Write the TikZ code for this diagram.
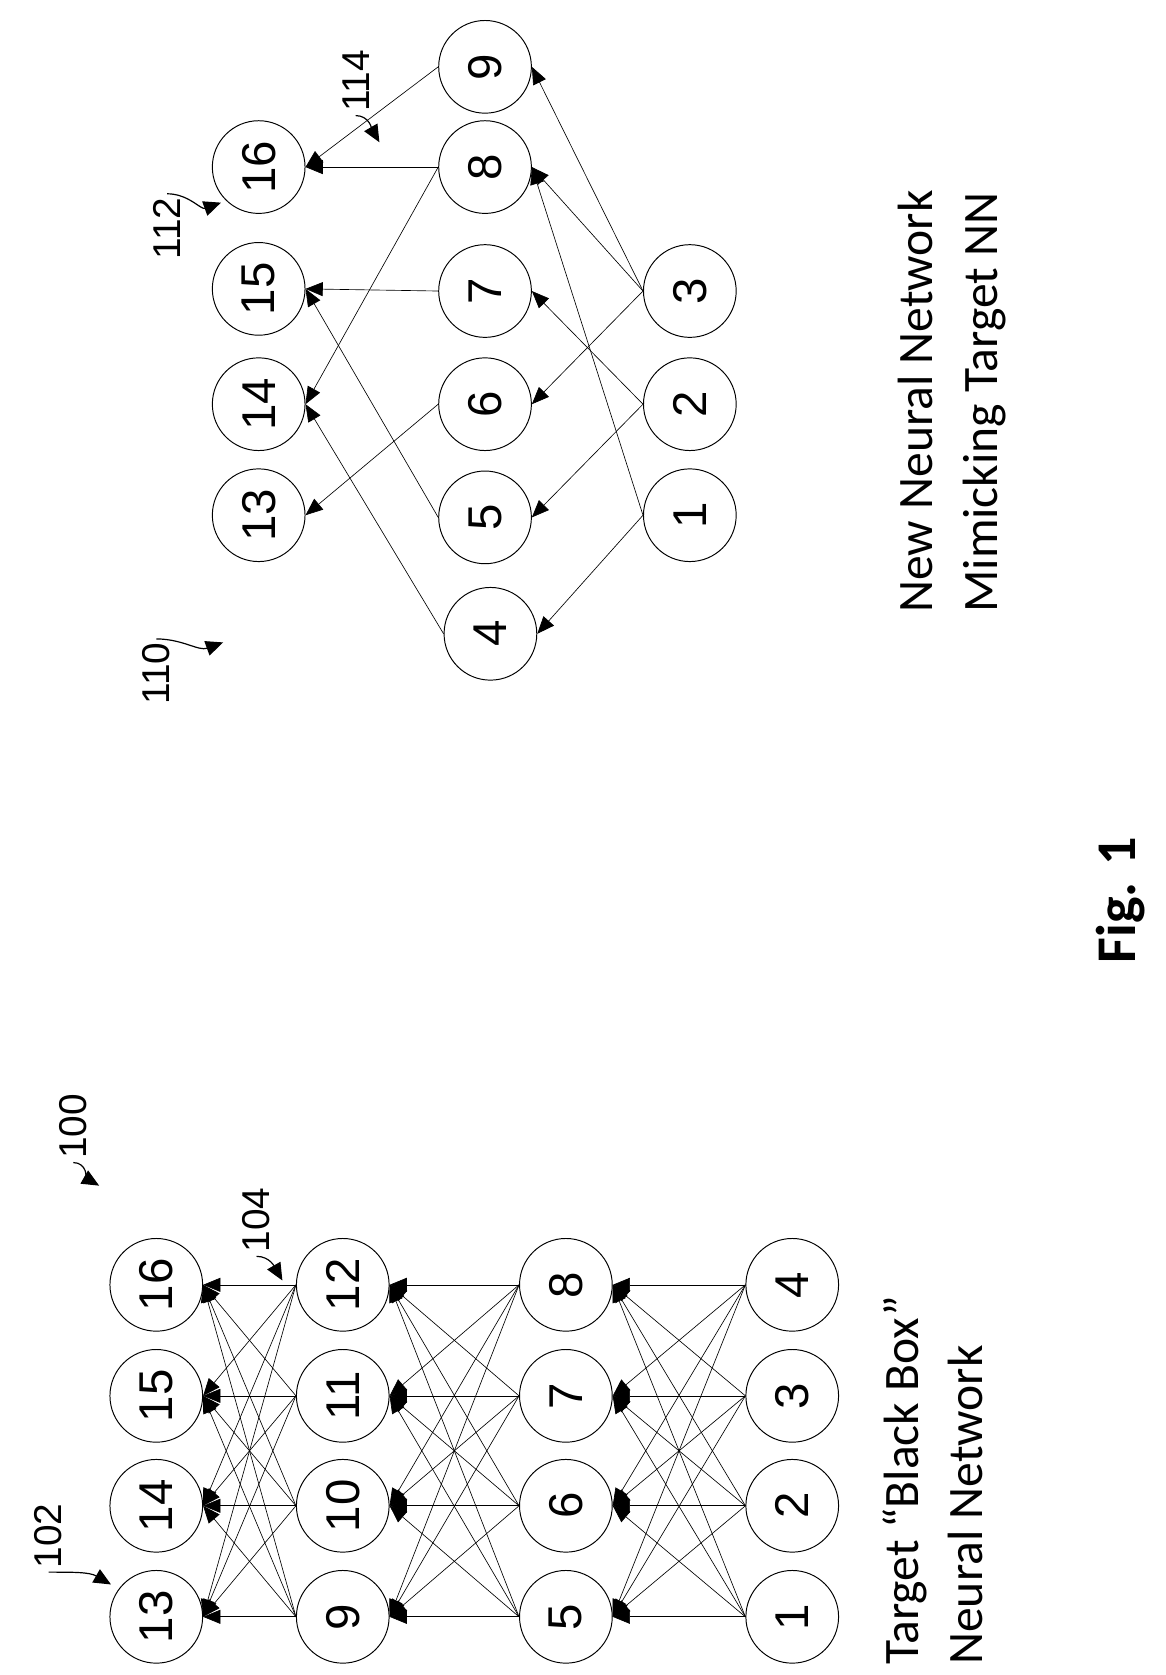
\documentclass[tikz,border=0pt]{standalone}
\usepackage{fontspec}
\setmainfont{Carlito}
\newfontfamily\numfont{Liberation Sans}
\usetikzlibrary{arrows.meta}
\begin{document}
\begin{tikzpicture}[x=1pt,y=-1pt,
    neuron/.style={draw,circle,minimum size=86,inner sep=0pt,line width=0.9,rotate=90,font=\numfont\fontsize{44}{44}\selectfont},
    link/.style={line width=0.6,-{Triangle[length=16,width=13]}},
    tag/.style={rotate=90,font=\numfont\fontsize{36}{36}\selectfont},
    lead/.style={line width=1.1,-{Triangle[length=16,width=14]}},
    caption/.style={rotate=90,anchor=north west,align=left,font=\fontsize{46}{60}\selectfont}]
    \useasboundingbox (0,0) rectangle (1081,1554);

    % black box network
    \foreach \l/\x in {0/735,1/525,2/318,3/145}{
        \foreach \r/\y in {1/1500,2/1397,3/1295,4/1192}{
            \pgfmathtruncatemacro{\n}{4*\l+\r}
            \node[neuron] (b\n) at (\x,\y) {\n};
        }
    }
    \foreach \l in {0,1,2}{
        \foreach \i in {1,...,4}{
            \foreach \j in {1,...,4}{
                \pgfmathtruncatemacro{\s}{4*\l+\i}
                \pgfmathtruncatemacro{\t}{4*\l+4+\j}
                \draw[link] (b\s.north) -- (b\t.south);
            }
        }
    }

    % mimicking network
    \node[neuron] (m1) at (640,478) {1};
    \node[neuron] (m2) at (640,375) {2};
    \node[neuron] (m3) at (640,270) {3};
    \node[neuron] (m4) at (455,588) {4};
    \node[neuron] (m5) at (450,480) {5};
    \node[neuron] (m6) at (450,375) {6};
    \node[neuron] (m7) at (450,270) {7};
    \node[neuron] (m8) at (450,155) {8};
    \node[neuron] (m9) at (450,62) {9};
    \node[neuron] (m13) at (240,478) {13};
    \node[neuron] (m14) at (240,375) {14};
    \node[neuron] (m15) at (240,268) {15};
    \node[neuron] (m16) at (240,155) {16};
    \foreach \s/\t in {9/16,8/16,7/15,5/15,8/14,4/14,6/13,3/9,3/8,1/8,2/7,3/6,2/5,1/4}
        \draw[link] (m\s.north) -- (m\t.south);

    % reference numerals
    \node[tag] (t100) at (68,1045) {100};
    \coordinate (p100) at (92,1100);
    \draw[lead] (t100.west) to[out=0,in=150] (p100);
    \node[tag] (t102) at (45,1425) {102};
    \coordinate (p102) at (103,1470);
    \draw[lead] (t102.west) to[out=0,in=150] (p102);
    \node[tag] (t104) at (238,1132) {104};
    \coordinate (p104) at (262,1188);
    \draw[lead] (t104.west) to[out=0,in=120] (p104);
    \node[tag] (t110) at (145,625) {110};
    \coordinate (p110) at (207,596);
    \draw[lead] (t110.east) to[out=0,in=200] (p110);
    \node[tag] (t112) at (155,212) {112};
    \coordinate (p112) at (205,188);
    \draw[lead] (t112.east) to[out=0,in=200] (p112);
    \node[tag] (t114) at (330,75) {114};
    \coordinate (p114) at (352,132);
    \draw[lead] (t114.west) to[out=0,in=120] (p114);

    % captions
    \node[caption] (capL) at (815,1548) {Target “Black Box”\\Neural Network};
    \node[caption] (capR) at (830,572) {New Neural Network\\Mimicking Target NN};
    \node[rotate=90,font=\bfseries\fontsize{52}{52}\selectfont] (fig) at (1040,835) {Fig. 1};
\end{tikzpicture}
\end{document}
